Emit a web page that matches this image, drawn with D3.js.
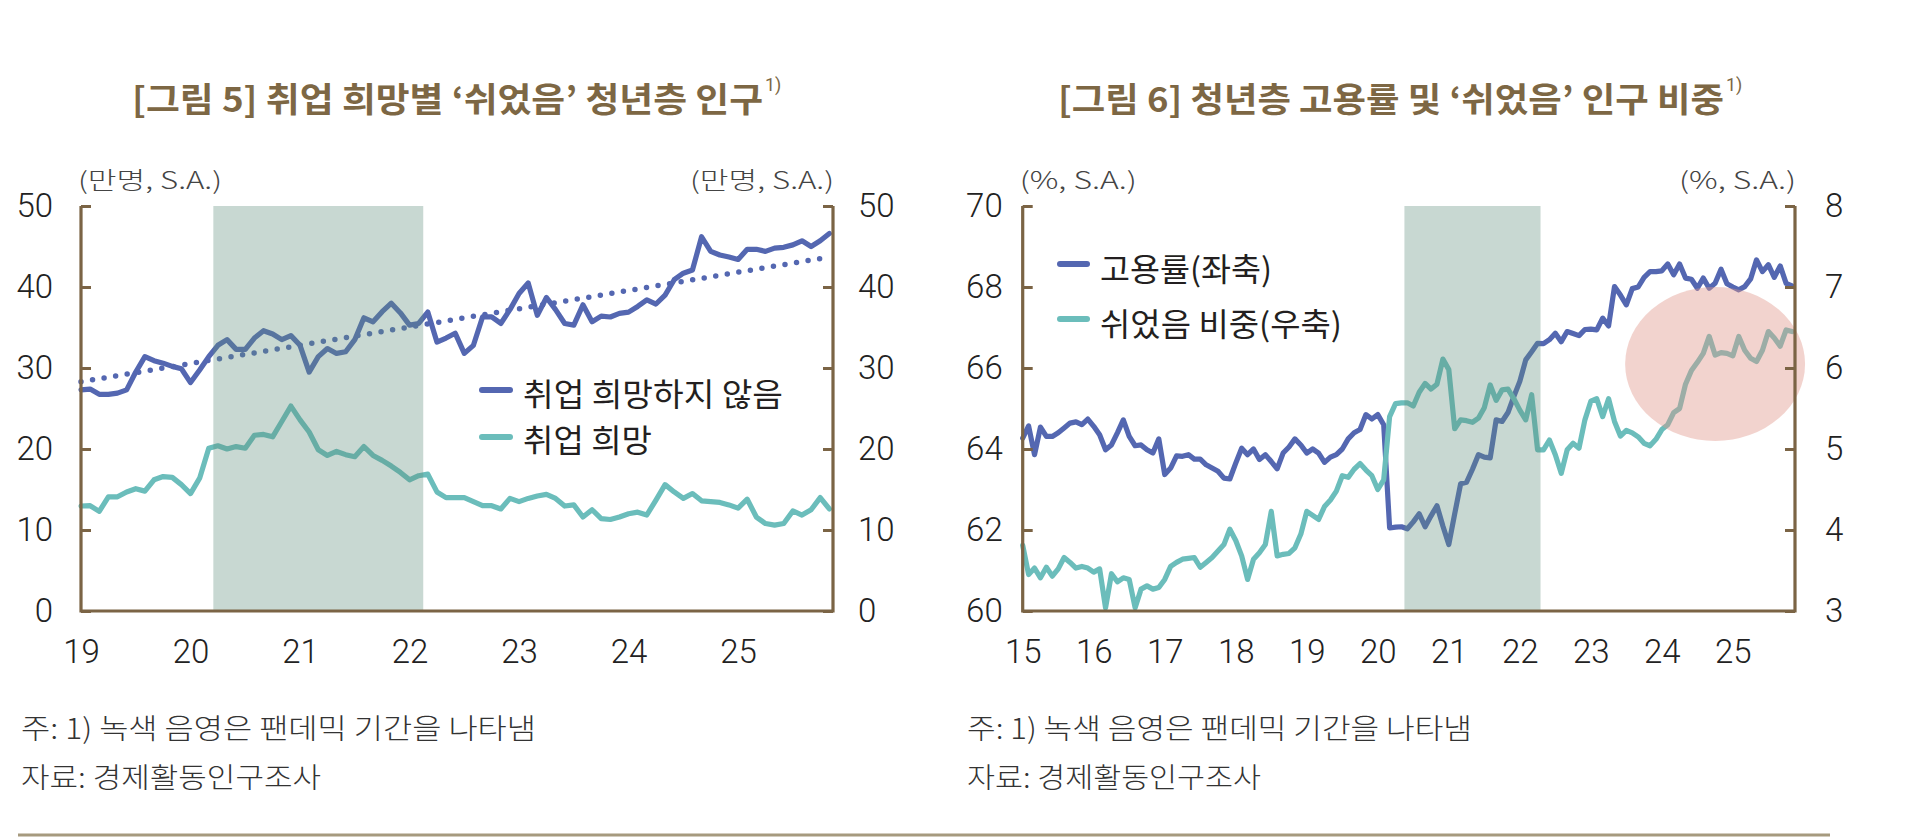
<!DOCTYPE html>
<html><head><meta charset="utf-8">
<script src="https://cdn.jsdelivr.net/npm/d3@7"></script>
<style>html,body{margin:0;background:#fff}svg{display:block}</style>
</head><body>
<svg id="c" width="1920" height="838"></svg>
<script>
// ---------------- DATA ----------------
const fmtM = d3.timeFormat("%Y-%m");
// Figure 5 : monthly, Jan 2019 - Nov 2025
const months1 = d3.timeMonths(new Date(2019,0,1), new Date(2025,11,1)).map(fmtM);
const notSeeking = [27.3,27.4,26.75,26.75,26.9,27.3,29.5,31.4,30.9,30.6,30.2,29.9,
  28.2,29.75,31.4,32.8,33.5,32.3,32.3,33.7,34.6,34.2,33.5,34.0,
  32.8,29.5,31.4,32.4,31.8,32.0,33.5,36.2,35.7,36.95,38.0,36.8,
  35.3,35.5,36.9,33.2,33.7,34.3,31.8,32.8,36.3,36.3,35.5,37.2,
  39.2,40.5,36.5,38.7,37.2,35.5,35.3,37.8,35.7,36.4,36.3,36.75,
  36.9,37.6,38.4,37.9,39.0,40.9,41.7,42.1,46.2,44.4,43.95,43.7,
  43.4,44.65,44.65,44.4,44.8,44.9,45.2,45.7,45.0,45.7,46.6];
const seeking = [12.96,13.0,12.3,14.1,14.1,14.7,15.1,14.8,16.2,16.6,16.5,15.6,
  14.5,16.4,20.1,20.4,20.0,20.3,20.1,21.7,21.8,21.5,23.4,25.3,
  23.6,22.1,19.9,19.2,19.7,19.3,19.05,20.3,19.2,18.6,17.9,17.1,
  16.2,16.7,16.9,14.7,14.0,14.0,14.0,13.5,13.0,13.0,12.6,13.9,
  13.5,13.9,14.2,14.4,13.9,12.96,13.1,11.6,12.5,11.4,11.3,11.6,
  12.0,12.2,11.85,13.7,15.6,14.7,13.9,14.5,13.6,13.5,13.4,13.1,
  12.7,13.8,11.6,10.8,10.6,10.8,12.35,11.85,12.5,14.0,12.6];
const trend1 = [28.3, 43.7];               // dotted trend: first and last month
const yearLabels1 = ["19","20","21","22","23","24","25"];
const yTicks1 = [0,10,20,30,40,50];
const shade1 = ["2020-04","2022-02"];
const legend1 = ["취업 희망하지 않음","취업 희망"];

// Figure 6 : monthly, Jan 2015 - Nov 2025
const months2 = d3.timeMonths(new Date(2015,0,1), new Date(2025,11,1)).map(fmtM);
const empRate = [64.27,64.57,63.86,64.54,64.31,64.31,64.4,64.52,64.64,64.67,64.6,64.74,
  64.56,64.35,63.98,64.1,64.4,64.72,64.31,64.08,64.1,63.98,63.9,64.25,
  63.37,63.53,63.83,63.82,63.86,63.75,63.75,63.61,63.53,63.45,63.28,63.26,
  63.65,64.02,63.86,64.0,63.74,63.86,63.69,63.51,63.9,64.05,64.25,64.1,
  63.9,64.0,63.9,63.67,63.8,63.86,64.0,64.25,64.4,64.48,64.85,64.74,
  64.85,64.6,62.05,62.07,62.08,62.03,62.2,62.4,62.08,62.35,62.6,62.1,
  61.64,62.4,63.14,63.18,63.5,63.86,63.8,63.78,64.72,64.68,64.9,65.3,
  65.67,66.2,66.4,66.61,66.6,66.7,66.86,66.65,66.9,66.85,66.8,66.95,
  66.96,66.94,67.23,67.04,68.01,67.8,67.56,67.96,68.0,68.24,68.38,68.38,
  68.4,68.57,68.3,68.57,68.22,68.19,67.97,68.22,67.97,68.09,68.44,68.08,
  68.0,67.93,68.01,68.2,68.67,68.38,68.55,68.24,68.52,68.09,68.03];
const restShare = [3.81,3.45,3.53,3.41,3.54,3.43,3.52,3.66,3.6,3.53,3.55,3.53,
  3.48,3.52,3.04,3.46,3.36,3.41,3.39,3.04,3.27,3.31,3.27,3.29,
  3.39,3.55,3.6,3.64,3.65,3.66,3.54,3.6,3.66,3.74,3.82,4.01,
  3.87,3.68,3.39,3.64,3.72,3.82,4.23,3.68,3.70,3.71,3.78,3.95,
  4.23,4.18,4.13,4.29,4.37,4.48,4.67,4.65,4.75,4.82,4.74,4.67,
  4.5,4.62,5.4,5.56,5.57,5.57,5.53,5.7,5.81,5.74,5.8,6.11,
  5.98,5.25,5.36,5.35,5.33,5.38,5.51,5.79,5.6,5.73,5.74,5.62,
  5.48,5.36,5.67,4.99,4.99,5.11,4.93,4.70,4.99,5.07,5.01,5.36,
  5.59,5.62,5.4,5.62,5.34,5.16,5.23,5.2,5.15,5.07,5.04,5.12,
  5.24,5.3,5.45,5.5,5.8,5.97,6.07,6.18,6.39,6.16,6.19,6.18,
  6.15,6.39,6.22,6.12,6.08,6.22,6.45,6.37,6.27,6.47,6.45];
const yearLabels2 = ["15","16","17","18","19","20","21","22","23","24","25"];
const yTicks2L = [60,62,64,66,68,70];
const yTicks2R = [3,4,5,6,7,8];
const shade2 = ["2020-06","2022-04"];
const highlightCenter = ["2024-10", 6.05];   // month, right-axis value
const highlightRadius = [15.2, 0.95];        // months, right-axis units
const legend2 = ["고용률(좌축)","쉬었음 비중(우축)"];

const titles = ["[그림 5] 취업 희망별 ‘쉬었음’ 청년층 인구","[그림 6] 청년층 고용률 및 ‘쉬었음’ 인구 비중"];
const units = ["(만명, S.A.)","(%, S.A.)"];
const notes = ["주: 1) 녹색 음영은 팬데믹 기간을 나타냄","자료: 경제활동인구조사"];

// ---------------- STYLE ----------------
const BROWN = "#7b6445", BLUE = "#5467b1", TEAL = "#6bbdbb";
const SHADE = "#62907e", SHADE_OP = 0.35;
const NUM = "Roboto, 'Liberation Sans', sans-serif";
const KR = "'Noto Sans CJK KR', 'Noto Sans', sans-serif";
const TOP = 206, BOT = 611;

const svg = d3.select("#c");

function text(g, s, x, y, o) {
  const t = g.append("text").attr("x", x).attr("y", y).text(s)
    .attr("font-family", o.font || KR).attr("font-size", o.size)
    .attr("font-weight", o.weight || 400).attr("fill", o.fill || "#222")
    .attr("dominant-baseline", "central").attr("text-anchor", o.anchor || "start");
  if (o.len) t.attr("textLength", o.len).attr("lengthAdjust", "spacingAndGlyphs");
  return t;
}

function axisStyle(g) {
  g.select(".domain").remove();
  g.selectAll(".tick line").attr("stroke", BROWN).attr("stroke-width", 3);
  g.attr("font-family", NUM).attr("font-size", 33).attr("font-weight", 300);
  g.selectAll(".tick text").attr("fill", "#222");
}

function drawChart(cfg) {
  const g = svg.append("g");
  const { x, yL, yR, months } = cfg;
  const idx = m => months.indexOf(m);
  // lines
  cfg.series.forEach(s => {
    const line = d3.line().x((d, i) => x(i)).y(d => s.y(d));
    g.append("path").datum(s.values).attr("d", line).attr("fill", "none")
      .attr("stroke", s.color).attr("stroke-width", 5.2)
      .attr("stroke-linejoin", "round").attr("stroke-linecap", "round");
  });
  if (cfg.trend) {
    g.append("path").datum([[0, cfg.trend[0]], [months.length - 1, cfg.trend[1]]])
      .attr("d", d3.line().x(d => x(d[0])).y(d => yL(d[1])))
      .attr("fill", "none").attr("stroke", BLUE).attr("stroke-width", 5.5)
      .attr("stroke-linecap", "round").attr("stroke-dasharray", "0 11.7");
  }
  // pandemic shading (overlay)
  const s0 = x(idx(cfg.shade[0]) - 0.5), s1 = x(idx(cfg.shade[1]) + 0.5);
  g.append("rect").attr("x", s0).attr("y", TOP).attr("width", s1 - s0).attr("height", BOT - TOP)
    .attr("fill", SHADE).attr("fill-opacity", SHADE_OP);
  if (cfg.highlight) {
    const hc = cfg.highlight;
    const cx = x(idx(hc.c[0])), cy = yR(hc.c[1]);
    g.append("ellipse").attr("cx", cx).attr("cy", cy)
      .attr("rx", x(idx(hc.c[0]) + hc.r[0]) - cx).attr("ry", yR(hc.c[1] - hc.r[1]) - cy)
      .attr("fill", "#df968b").attr("fill-opacity", 0.42);
  }
  // frame
  const xl = x.range()[0], xr = x.range()[1];
  g.append("path").attr("d", `M${xl},${TOP}V${BOT}H${xr}V${TOP}`)
    .attr("fill", "none").attr("stroke", BROWN).attr("stroke-width", 3.2);
  // axes
  const fmtD = d3.format("d");
  g.append("g").attr("transform", `translate(${xl},0)`)
    .call(d3.axisLeft(yL).tickValues(cfg.ticksL).tickFormat(fmtD).tickSize(-10).tickPadding(cfg.padL)).call(axisStyle);
  g.append("g").attr("transform", `translate(${xr},0)`)
    .call(d3.axisRight(yR).tickValues(cfg.ticksR).tickFormat(fmtD).tickSize(-10).tickPadding(cfg.padR)).call(axisStyle);
  const yearIdx = cfg.years.map(l => idx("20" + l + "-01"));
  g.append("g").attr("transform", `translate(0,${BOT})`)
    .call(d3.axisBottom(x).tickValues(yearIdx).tickFormat((d, i) => cfg.years[i]).tickSize(0).tickPadding(29))
    .call(axisStyle);
  // legend
  cfg.legend.forEach((L, i) => {
    g.append("line").attr("x1", L.lx[0]).attr("x2", L.lx[1]).attr("y1", L.ly).attr("y2", L.ly)
      .attr("stroke", cfg.series[i].color).attr("stroke-width", 6).attr("stroke-linecap", "round");
    text(g, L.label, L.tx, L.ty, { size: 32, len: L.len, fill: "#231f20" });
  });
  // title
  text(g, cfg.title, cfg.titleX, 97, { size: 34, weight: 700, fill: "#7d6744", len: cfg.titleLen });
  text(g, "1)", cfg.titleX + cfg.titleLen + 2, 84, { size: 18, weight: 400, fill: "#7d6744", font: NUM });
  // units
  text(g, cfg.unit, xl - 3, 178, { size: 24, weight: 300, fill: "#444", len: cfg.unitLen });
  text(g, cfg.unit, xr + 1, 178, { size: 24, weight: 300, fill: "#444", anchor: "end", len: cfg.unitLen });
  // notes
  text(g, notes[0], cfg.noteX, 727, { size: 28, weight: 300, fill: "#333", len: cfg.noteLen[0] });
  text(g, notes[1], cfg.noteX, 776, { size: 28, weight: 300, fill: "#333", len: cfg.noteLen[1] });
}

// chart 1
const x1 = d3.scaleLinear().domain([0, 82.4]).range([81, 833]);
const y1 = d3.scaleLinear().domain([0, 50]).range([BOT, TOP]);
drawChart({
  x: x1, yL: y1, yR: y1, months: months1,
  series: [{ values: notSeeking, color: BLUE, y: y1 }, { values: seeking, color: TEAL, y: y1 }],
  trend: trend1, shade: shade1, ticksL: yTicks1, ticksR: yTicks1, padL: 28, padR: 25,
  years: yearLabels1,
  legend: [
    { label: legend1[0], lx: [482, 510], ly: 390, tx: 523, ty: 392, len: 260 },
    { label: legend1[1], lx: [482, 510], ly: 437, tx: 523, ty: 438, len: 129 }],
  title: titles[0], titleX: 132, titleLen: 631,
  unit: units[0], unitLen: 144, noteX: 21, noteLen: [515, 300]
});

// chart 2
const x2 = d3.scaleLinear().domain([0, 130.5]).range([1022.7, 1795]);
const y2L = d3.scaleLinear().domain([60, 70]).range([BOT, TOP]);
const y2R = d3.scaleLinear().domain([3, 8]).range([BOT, TOP]);
drawChart({
  x: x2, yL: y2L, yR: y2R, months: months2,
  series: [{ values: empRate, color: BLUE, y: y2L }, { values: restShare, color: TEAL, y: y2R }],
  shade: shade2, highlight: { c: highlightCenter, r: highlightRadius },
  ticksL: yTicks2L, ticksR: yTicks2R, padL: 20, padR: 30,
  years: yearLabels2,
  legend: [
    { label: legend2[0], lx: [1060, 1087], ly: 264, tx: 1100, ty: 267, len: 172 },
    { label: legend2[1], lx: [1060, 1087], ly: 319, tx: 1100, ty: 322, len: 242 }],
  title: titles[1], titleX: 1058, titleLen: 666,
  unit: units[1], unitLen: 117, noteX: 967, noteLen: [505, 294]
});

// bottom rule
svg.append("line").attr("x1", 18).attr("x2", 1830).attr("y1", 835).attr("y2", 835)
  .attr("stroke", "#a69a7e").attr("stroke-width", 3);
</script>
</body></html>
